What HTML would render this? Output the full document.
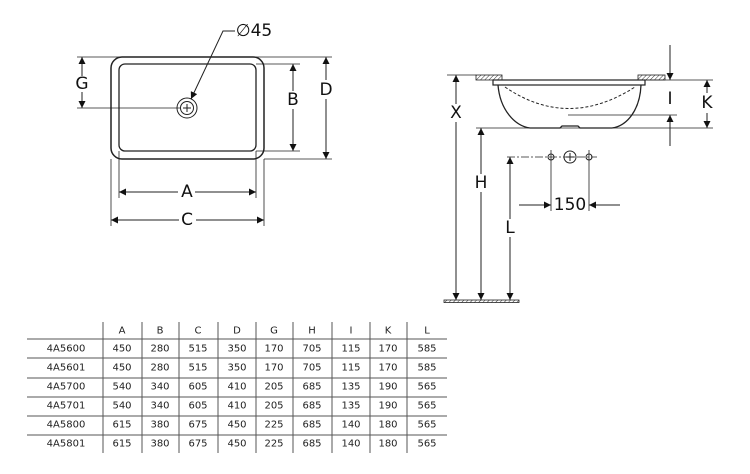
<!DOCTYPE html>
<html><head><meta charset="utf-8"><style>
html,body{margin:0;padding:0;background:#fff;}
svg{display:block;font-family:"DejaVu Sans","Liberation Sans",sans-serif;}
</style></head><body>
<svg width="750" height="474" viewBox="0 0 750 474" xmlns="http://www.w3.org/2000/svg">
<defs>
<marker id="a" viewBox="0 0 10 10" refX="10" refY="5" markerWidth="9" markerHeight="7" orient="auto-start-reverse" markerUnits="userSpaceOnUse"><path d="M0,0L10,5L0,10z" fill="#111"/></marker>
<pattern id="h" width="3" height="3" patternUnits="userSpaceOnUse" patternTransform="rotate(45)"><line x1="0" y1="0" x2="0" y2="3" stroke="#333" stroke-width="1"/></pattern>
</defs>
<g stroke="#222" fill="none" stroke-width="1">
<!-- top view -->
<rect x="111" y="57" width="153" height="102" rx="11" stroke-width="1.5"/>
<rect x="119" y="64" width="137" height="87" rx="6" stroke-width="1.3"/>
<circle cx="187" cy="108" r="10"/><circle cx="187" cy="108" r="6.5"/>
<line x1="183" y1="108" x2="191" y2="108"/><line x1="187" y1="104" x2="187" y2="112"/>
<line x1="77" y1="57" x2="332" y2="57" stroke-width="0.8"/>
<line x1="77" y1="108" x2="180" y2="108" stroke-width="0.8"/>
<line x1="82" y1="57" x2="82" y2="76" marker-start="url(#a)"/>
<line x1="82" y1="92" x2="82" y2="108" marker-end="url(#a)"/>
<line x1="256" y1="64" x2="300" y2="64" stroke-width="0.8"/>
<line x1="256" y1="151" x2="300" y2="151" stroke-width="0.8"/>
<line x1="293" y1="64" x2="293" y2="91" marker-start="url(#a)"/>
<line x1="293" y1="109" x2="293" y2="151" marker-end="url(#a)"/>
<line x1="264" y1="159" x2="332" y2="159" stroke-width="0.8"/>
<line x1="326" y1="57" x2="326" y2="80" marker-start="url(#a)"/>
<line x1="326" y1="99" x2="326" y2="159" marker-end="url(#a)"/>
<line x1="119" y1="151" x2="119" y2="198" stroke-width="0.8"/>
<line x1="256" y1="151" x2="256" y2="198" stroke-width="0.8"/>
<line x1="111" y1="159" x2="111" y2="226" stroke-width="0.8"/>
<line x1="264" y1="159" x2="264" y2="226" stroke-width="0.8"/>
<line x1="119" y1="192" x2="178" y2="192" marker-start="url(#a)"/>
<line x1="195" y1="192" x2="256" y2="192" marker-end="url(#a)"/>
<line x1="111" y1="220" x2="179" y2="220" marker-start="url(#a)"/>
<line x1="196" y1="220" x2="264" y2="220" marker-end="url(#a)"/>
<polyline points="235,31 223,31 191,99" marker-end="url(#a)"/>
<!-- side view -->
<rect x="476" y="75" width="26" height="5" fill="url(#h)" stroke-width="0.8"/>
<rect x="638" y="75" width="27" height="5" fill="url(#h)" stroke-width="0.8"/>
<rect x="493" y="80" width="152" height="5" stroke-width="1.2"/>
<line x1="645" y1="80" x2="713" y2="80" stroke-width="0.8"/>
<path d="M498,85 C500,110 515,126 530,128 L560,128 L562,126 L578,126 L580,128 L612,128 C627,126 640,110 641,85" stroke-width="1.3"/>
<path d="M505,87 Q568,130 635,87" stroke-dasharray="3,2"/>
<line x1="568" y1="115" x2="677" y2="115" stroke-width="0.8"/>
<line x1="670" y1="45" x2="670" y2="80" marker-end="url(#a)"/>
<line x1="670" y1="146" x2="670" y2="115" marker-end="url(#a)"/>
<line x1="476" y1="128" x2="713" y2="128" stroke-width="0.8"/>
<line x1="707" y1="80" x2="707" y2="93" marker-start="url(#a)"/>
<line x1="707" y1="113" x2="707" y2="128" marker-end="url(#a)"/>
<line x1="447" y1="75" x2="476" y2="75" stroke-width="0.8"/>
<line x1="456" y1="75" x2="456" y2="104" marker-start="url(#a)"/>
<line x1="456" y1="122" x2="456" y2="300" marker-end="url(#a)"/>
<line x1="481" y1="128" x2="481" y2="174" marker-start="url(#a)"/>
<line x1="481" y1="192" x2="481" y2="300" marker-end="url(#a)"/>
<line x1="507" y1="157" x2="597" y2="157" stroke-width="0.8" stroke-dasharray="8,2,2,2"/>
<line x1="510" y1="157" x2="510" y2="219" marker-start="url(#a)"/>
<line x1="510" y1="237" x2="510" y2="300" marker-end="url(#a)"/>
<circle cx="551" cy="157" r="3"/><circle cx="589" cy="157" r="3"/><circle cx="570" cy="157" r="6"/>
<line x1="566" y1="157" x2="574" y2="157"/><line x1="570" y1="153" x2="570" y2="161"/>
<line x1="551" y1="150" x2="551" y2="211" stroke-width="0.8"/>
<line x1="589" y1="150" x2="589" y2="211" stroke-width="0.8"/>
<line x1="519" y1="205" x2="551" y2="205" marker-end="url(#a)"/>
<line x1="620" y1="205" x2="589" y2="205" marker-end="url(#a)"/>
<rect x="444" y="300" width="75" height="2.5" fill="url(#h)" stroke-width="0.8"/>
<!-- table -->
<g stroke="#555" stroke-width="1">
<line x1="103" y1="322" x2="103" y2="453"/><line x1="142" y1="322" x2="142" y2="453"/><line x1="179" y1="322" x2="179" y2="453"/><line x1="218" y1="322" x2="218" y2="453"/><line x1="256" y1="322" x2="256" y2="453"/><line x1="293" y1="322" x2="293" y2="453"/><line x1="332" y1="322" x2="332" y2="453"/><line x1="370" y1="322" x2="370" y2="453"/><line x1="407" y1="322" x2="407" y2="453"/>
<line x1="27" y1="339" x2="447" y2="339"/><line x1="27" y1="358" x2="447" y2="358"/><line x1="27" y1="378" x2="447" y2="378"/><line x1="27" y1="397" x2="447" y2="397"/><line x1="27" y1="416" x2="447" y2="416"/><line x1="27" y1="435" x2="447" y2="435"/>
</g>
</g>
<g fill="#111" font-size="17" text-anchor="middle" dominant-baseline="central">
<text x="82" y="84">G</text><text x="293" y="100">B</text><text x="326" y="90">D</text>
<text x="187" y="192">A</text><text x="187" y="220">C</text>
<text x="254" y="31">∅45</text>
<text x="456" y="113">X</text><text x="481" y="183">H</text><text x="510" y="228">L</text>
<text x="670" y="99">I</text><text x="707" y="103">K</text><text x="570" y="205">150</text>
</g>
<g fill="#222" font-size="10" text-anchor="middle" dominant-baseline="central">
<text x="122" y="331">A</text><text x="160" y="331">B</text><text x="198" y="331">C</text><text x="237" y="331">D</text><text x="274" y="331">G</text><text x="312" y="331">H</text><text x="351" y="331">I</text><text x="388" y="331">K</text><text x="427" y="331">L</text>
<text x="66" y="349">4A5600</text><text x="122" y="349">450</text><text x="160" y="349">280</text><text x="198" y="349">515</text><text x="237" y="349">350</text><text x="274" y="349">170</text><text x="312" y="349">705</text><text x="351" y="349">115</text><text x="388" y="349">170</text><text x="427" y="349">585</text>
<text x="66" y="368">4A5601</text><text x="122" y="368">450</text><text x="160" y="368">280</text><text x="198" y="368">515</text><text x="237" y="368">350</text><text x="274" y="368">170</text><text x="312" y="368">705</text><text x="351" y="368">115</text><text x="388" y="368">170</text><text x="427" y="368">585</text>
<text x="66" y="387">4A5700</text><text x="122" y="387">540</text><text x="160" y="387">340</text><text x="198" y="387">605</text><text x="237" y="387">410</text><text x="274" y="387">205</text><text x="312" y="387">685</text><text x="351" y="387">135</text><text x="388" y="387">190</text><text x="427" y="387">565</text>
<text x="66" y="406">4A5701</text><text x="122" y="406">540</text><text x="160" y="406">340</text><text x="198" y="406">605</text><text x="237" y="406">410</text><text x="274" y="406">205</text><text x="312" y="406">685</text><text x="351" y="406">135</text><text x="388" y="406">190</text><text x="427" y="406">565</text>
<text x="66" y="425">4A5800</text><text x="122" y="425">615</text><text x="160" y="425">380</text><text x="198" y="425">675</text><text x="237" y="425">450</text><text x="274" y="425">225</text><text x="312" y="425">685</text><text x="351" y="425">140</text><text x="388" y="425">180</text><text x="427" y="425">565</text>
<text x="66" y="444">4A5801</text><text x="122" y="444">615</text><text x="160" y="444">380</text><text x="198" y="444">675</text><text x="237" y="444">450</text><text x="274" y="444">225</text><text x="312" y="444">685</text><text x="351" y="444">140</text><text x="388" y="444">180</text><text x="427" y="444">565</text>
</g>
</svg>
</body></html>
